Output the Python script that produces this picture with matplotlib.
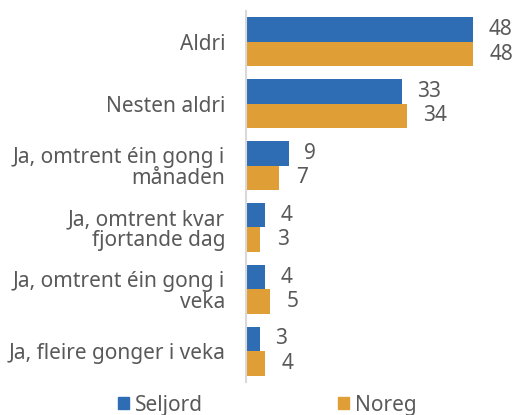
import numpy as np
import matplotlib
matplotlib.use("Agg")
import matplotlib.pyplot as plt
from matplotlib.patches import Patch

plt.rcParams['font.family'] = ['Noto Sans', 'DejaVu Sans']

categories = [
    "Aldri",
    "Nesten aldri",
    "Ja, omtrent éin gong i\nmånaden",
    "Ja, omtrent kvar\nfjortande dag",
    "Ja, omtrent éin gong i\nveka",
    "Ja, fleire gonger i veka",
]
seljord = [48, 33, 9, 4, 4, 3]
noreg = [48, 34, 7, 3, 5, 4]
series_names = ["Seljord", "Noreg"]

blue = "#2E6DB4"
orange = "#E09F36"
text_col = "#595959"
fs = 15

fig = plt.figure(figsize=(5.18, 4.15), dpi=100)
ax = fig.add_axes([246 / 518, 33 / 415, 264 / 518, 371 / 415])

y = np.arange(len(categories))
h = 0.395
ax.barh(y - h / 2, seljord, height=h, color=blue)
ax.barh(y + h / 2, noreg, height=h, color=orange)

for yi, v in zip(y, seljord):
    ax.annotate(str(v), (v, yi - h / 2), xytext=(11, 0), textcoords="offset points",
                va="center", ha="left", fontsize=fs, color=text_col)
for yi, v in zip(y, noreg):
    ax.annotate(str(v), (v, yi + h / 2), xytext=(12, 0), textcoords="offset points",
                va="center", ha="left", fontsize=fs, color=text_col)

ax.set_xlim(0, 264 / 4.73)
ax.set_ylim(len(categories) - 0.5, -0.5)
ax.set_yticks(y)
ax.set_yticklabels(categories, fontsize=fs, color=text_col, ha="right", linespacing=1.0)
ax.tick_params(axis="y", length=0, pad=15)
ax.set_xticks([])
for side in ["top", "right", "bottom"]:
    ax.spines[side].set_visible(False)
ax.spines["left"].set_color("#d9d9d9")
ax.spines["left"].set_linewidth(1.5)

handles = [Patch(color=blue), Patch(color=orange)]
fig.legend(handles, series_names, loc="center", bbox_to_anchor=(0.516, 10 / 415),
           ncol=2, frameon=False, fontsize=fs, handlelength=0.5, handleheight=0.5,
           handletextpad=0.3, columnspacing=6.5, labelcolor=text_col)

fig.savefig("out.png", dpi=100)
